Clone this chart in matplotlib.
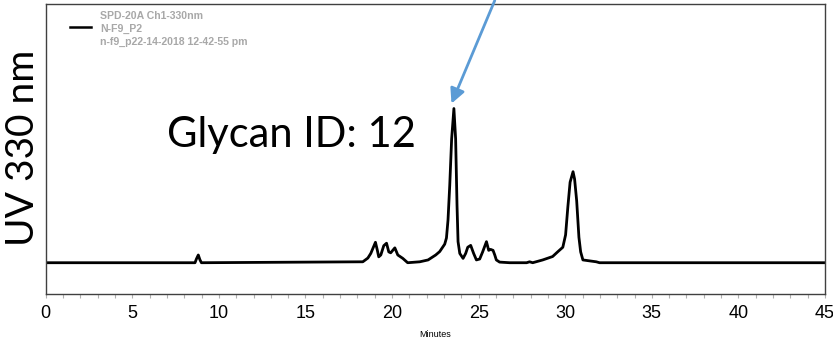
import matplotlib
matplotlib.use("Agg")
import matplotlib.pyplot as plt

# retention time (min) and detector response (mAU)
minutes = [0.0, 8.62, 8.70, 8.81, 8.90, 8.99, 18.31, 18.60, 18.77, 19.04, 19.15,
           19.23, 19.35, 19.52, 19.68, 19.81, 19.92, 20.16, 20.33, 20.62, 20.90,
           21.14, 21.60, 22.08, 22.52, 22.75, 23.04, 23.14, 23.23, 23.33, 23.44,
           23.57, 23.67, 23.75, 23.81, 23.91, 24.10, 24.25, 24.37, 24.54, 24.71,
           24.87, 25.06, 25.23, 25.45, 25.58, 25.69, 25.83, 25.93, 26.02, 26.21,
           26.79, 27.77, 27.94, 28.12, 28.70, 29.27, 29.56, 29.86, 30.02, 30.15,
           30.28, 30.45, 30.54, 30.66, 30.79, 30.89, 31.02, 31.40, 31.79, 31.98,
           45.0]
mau = [0.0, 0.0, 1.2, 2.5, 1.0, 0.0, 0.3, 1.5, 3.0, 6.6, 4.0,
       1.9, 2.5, 5.5, 6.3, 3.5, 3.2, 4.8, 2.5, 1.4, 0.0,
       0.1, 0.3, 0.9, 2.5, 3.6, 6.0, 8.0, 13.8, 25.0, 40.0,
       49.8, 40.0, 18.6, 6.8, 3.0, 1.4, 3.0, 5.0, 5.6, 3.0,
       0.9, 1.2, 3.5, 6.8, 4.0, 4.3, 4.0, 2.5, 0.9, 0.2,
       0.0, 0.0, 0.3, 0.0, 0.9, 2.0, 3.5, 5.0, 9.0, 18.0,
       26.0, 29.4, 27.0, 20.0, 8.2, 3.5, 0.9, 0.6, 0.3, 0.0,
       0.0]

legend_lines = ["SPD-20A Ch1-330nm", "N-F9_P2", "n-f9_p22-14-2018 12-42-55 pm"]
peak_label = "Glycan ID: 12"
peak_time = 23.43
peak_tip = 51.4
arrow_from = (25.93, 84.7)

fig = plt.figure(figsize=(8.33, 3.46), dpi=100)
ax = fig.add_axes([0.0549, 0.1512, 0.9355, 0.8358])

ax.plot(minutes, mau, color="black", lw=2.0, solid_joinstyle="round")

ax.set_xlim(0, 45)
ax.set_ylim(-10, 83.4)
ax.set_xticks(range(0, 46, 5))
ax.set_xticks(range(0, 46), minor=True)
ax.set_yticks([])
ax.tick_params(axis="x", which="both", direction="out", length=3, width=0.8,
               color="#b0b0b0", pad=5)
for lab in ax.get_xticklabels():
    lab.set_family("Liberation Sans")
    lab.set_fontsize(13)
for side in ["top", "right", "left", "bottom"]:
    ax.spines[side].set_color("#404040")
    ax.spines[side].set_linewidth(1.0)

ax.set_xlabel("Minutes", fontsize=6.5, family="Liberation Sans", labelpad=6)
fig.text(0.028, 0.572, "UV 330 nm", rotation=90, ha="center", va="center",
         fontsize=28, family="Lato")
fig.text(0.2, 0.576, peak_label, fontsize=30, family="Lato", va="baseline")

# legend block in the upper left corner
fig.add_artist(plt.Line2D([0.084, 0.109], [0.922, 0.922], color="black", lw=1.8))
for i, line in enumerate(legend_lines):
    fig.text(0.12, 0.954 - i * 0.0375, line, fontsize=7.6, fontweight="bold",
             color="#a8a8a8", family="Liberation Sans", va="center")

ax.annotate("", xy=(peak_time, peak_tip), xytext=arrow_from,
            arrowprops=dict(arrowstyle="-|>", color="#5b9bd5", lw=2,
                            mutation_scale=22, shrinkA=0, shrinkB=0),
            annotation_clip=False)

fig.savefig("out.png", dpi=100)
